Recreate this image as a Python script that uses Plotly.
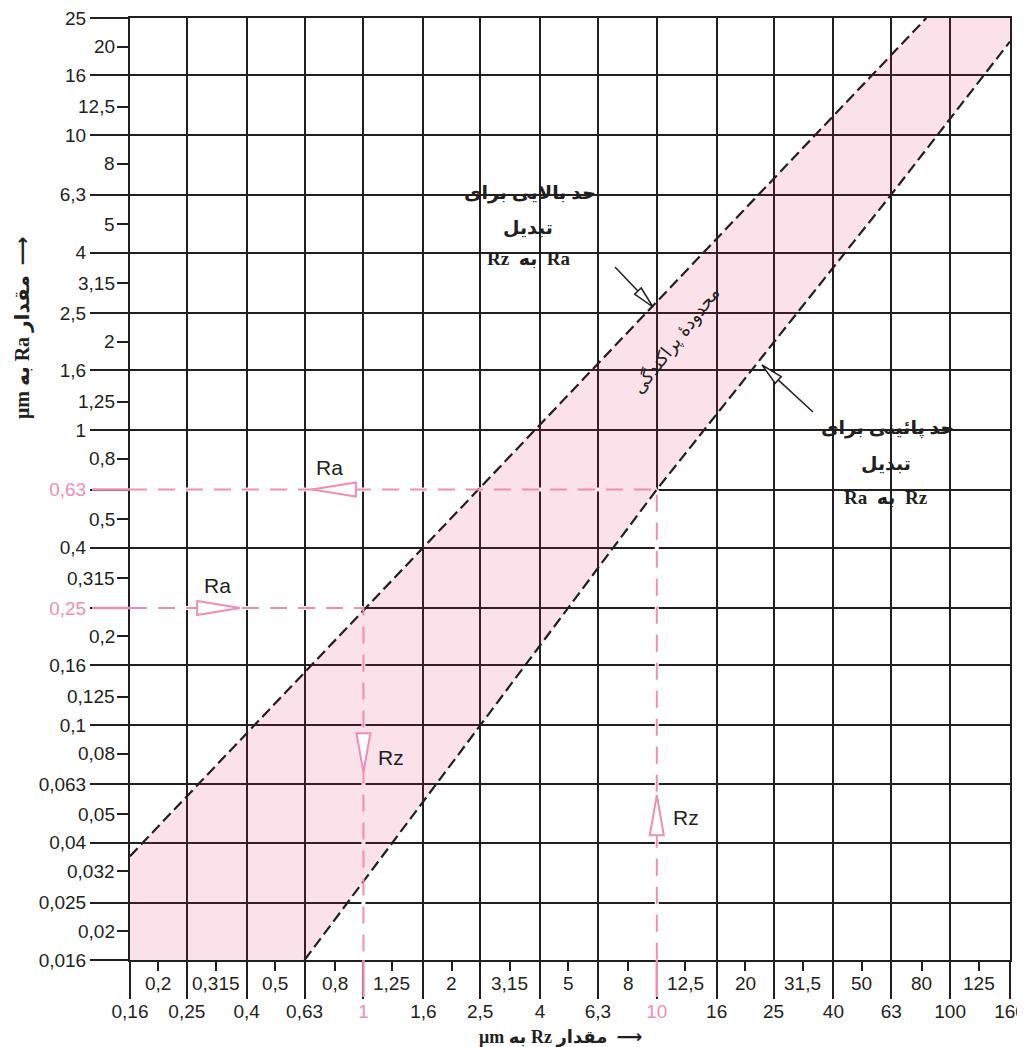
import math
import plotly.graph_objects as go

# Renard steps on both scales (µm)
rz_major = [0.16, 0.25, 0.4, 0.63, 1, 1.6, 2.5, 4, 6.3, 10, 16, 25, 40, 63, 100, 160]
rz_minor = [0.2, 0.315, 0.5, 0.8, 1.25, 2, 3.15, 5, 8, 12.5, 20, 31.5, 50, 80, 125]
ra_major = [0.016, 0.025, 0.04, 0.063, 0.1, 0.16, 0.25, 0.4, 0.63, 1, 1.6, 2.5, 4, 6.3, 10, 16, 25]
ra_minor = [0.02, 0.032, 0.05, 0.08, 0.125, 0.2, 0.315, 0.5, 0.8, 1.25, 2, 3.15, 5, 8, 12.5, 20]

# limits of the scatter band
upper_rz = [0.16, 83]
upper_ra = [0.036, 25]
lower_rz = [0.63, 2.5, 10, 63, 160]
lower_ra = [0.016, 0.1, 0.63, 6.3, 20.8]

# the two worked examples (Ra 0,25 -> Rz 1 and Rz 10 -> Ra 0,63)
example_ra = [0.25, 0.63]
example_rz = [1, 10]

DARK = "#231f20"
PINK = "#f08db4"
TICKFONT = "Liberation Sans, Roboto, sans-serif"
FAFONT = "Liberation Serif, DejaVu Sans"


def fmt(v):
    return str(v).replace(".", ",")


# plot area spans 130..1010 x 18..960 px on the page
def px(x):
    return (x - 130) / 880


def py(y):
    return (960 - y) / 942


def ticktext(vals, marked):
    out = []
    for v in vals:
        t = fmt(v)
        if v in marked:
            t = f"<span style='color:{PINK}'>{t}</span>"
        out.append(t)
    return out


fig = go.Figure()

# band fill (translucent so the grid shows through)
band_x = [rz_major[0]] + upper_rz + [rz_major[-1]] + lower_rz[::-1]
band_y = [ra_major[0]] + upper_ra + [ra_major[-1]] + lower_ra[::-1]
fig.add_trace(go.Scatter(x=band_x, y=band_y, fill="toself", fillcolor="rgba(217,24,94,0.13)",
                         mode="lines", line=dict(width=0, color="rgba(0,0,0,0)"), hoverinfo="skip"))

fig.add_trace(go.Scatter(x=upper_rz, y=upper_ra, mode="lines",
                         line=dict(color=DARK, width=2.2, dash="11px,5px"), hoverinfo="skip"))
fig.add_trace(go.Scatter(x=lower_rz, y=lower_ra, mode="lines",
                         line=dict(color=DARK, width=2.2, dash="11px,5px"), hoverinfo="skip"))

for ra, rz in zip(example_ra, example_rz):
    fig.add_trace(go.Scatter(x=[rz_major[0], rz, rz], y=[ra, ra, ra_major[0]], mode="lines",
                             line=dict(color=PINK, width=2, dash="17px,11px"), hoverinfo="skip"))

shapes = []
# hide the black grid under the pink example lines
for ra, rz in zip(example_ra, example_rz):
    shapes.append(dict(type="line", xref="x", yref="y", x0=rz, x1=rz, y0=ra_major[0], y1=ra,
                       line=dict(color="white", width=4), layer="between"))
    shapes.append(dict(type="line", xref="x", yref="y", x0=rz_major[0], x1=rz, y0=ra, y1=ra,
                       line=dict(color="white", width=4), layer="between"))
    # pink ticks
    shapes.append(dict(type="line", xref="x", yref="paper", x0=rz, x1=rz, y0=0, y1=-37 / 942,
                       line=dict(color=PINK, width=2.5), layer="above"))
    shapes.append(dict(type="line", xref="paper", yref="y", x0=-38 / 880, x1=0, y0=ra, y1=ra,
                       line=dict(color=PINK, width=2.5), layer="above"))

# white label boxes
for x0, x1, y0, y1 in [(447, 640, 293, 163), (800, 993, 528, 398)]:
    shapes.append(dict(type="rect", xref="paper", yref="paper", x0=px(x0), x1=px(x1), y0=py(y0), y1=py(y1),
                       fillcolor="white", line=dict(width=0), layer="between"))

# hollow pink arrowheads on the example lines
tri = [
    (0.271, example_ra[0], "M 0 -7 L 43 0 L 0 7 Z"),
    (0.667, example_ra[1], "M 0 0 L 44 -7 L 44 7 Z"),
    (example_rz[0], 0.094, "M -7 0 L 7 0 L 0 -39 Z"),
    (example_rz[1], 0.0424, "M -7 0 L 7 0 L 0 40 Z"),
]
for xa, ya, path in tri:
    shapes.append(dict(type="path", xref="x", yref="y", xsizemode="pixel", ysizemode="pixel",
                       xanchor=xa, yanchor=ya, path=path, fillcolor="white",
                       line=dict(color=PINK, width=2), layer="above"))

# leader arrows to the band limits
leaders = [
    (653, 307, "M 0 0 L -11.8 19 L -18.4 12.8 Z M -15.1 15.9 L -38 40"),
    (762, 365, "M 0 0 L 19.2 -11.6 L 13.2 -18.2 Z M 16.2 -14.9 L 51 -47"),
]
for tx, ty, path in leaders:
    shapes.append(dict(type="path", xref="paper", yref="paper", xsizemode="pixel", ysizemode="pixel",
                       xanchor=px(tx), yanchor=py(ty), path=path, fillcolor="white",
                       line=dict(color=DARK, width=1.5), layer="above"))

ann = []
# minor tick labels
for v in rz_minor:
    ann.append(dict(x=math.log10(v), y=0, xref="x", yref="paper", text=fmt(v), showarrow=False,
                    xanchor="center", yanchor="middle", yshift=-23,
                    font=dict(family=TICKFONT, size=19, color=DARK)))
for v in ra_minor:
    ann.append(dict(x=0, y=math.log10(v), xref="paper", yref="y", text=fmt(v), showarrow=False,
                    xanchor="right", yanchor="middle", xshift=-13,
                    font=dict(family=TICKFONT, size=19, color=DARK)))

# Ra / Rz labels next to the arrowheads
for (xa, ya, _), txt, xs, ys, anc in zip(tri, ["Ra", "Ra", "Rz", "Rz"],
                                          [20, 18, 13, 14], [22, 22, -24, 18],
                                          ["center", "center", "left", "left"]):
    ann.append(dict(x=math.log10(xa), y=math.log10(ya), xref="x", yref="y", text=txt, showarrow=False,
                    xanchor=anc, yanchor="middle", xshift=xs, yshift=ys,
                    font=dict(family=TICKFONT, size=21, color=DARK)))

# box texts
box_lines = [
    ("حد بالایی برای", 530, 193), ("تبدیل", 528, 228), ("Rz\u00a0 به\u00a0 Ra", 529, 258),
    ("حد پائینی برای", 887, 428), ("تبدیل", 886, 463), ("Ra\u00a0 به\u00a0 Rz", 886, 497),
]
for txt, x, y in box_lines:
    ann.append(dict(x=px(x), y=py(y), xref="paper", yref="paper", text=f"<b>{txt}</b>", showarrow=False,
                    xanchor="center", yanchor="middle",
                    font=dict(family=FAFONT, size=19, color=DARK)))

ann.append(dict(x=px(676), y=py(340), xref="paper", yref="paper", text="محدودهٔ پراکندگی",
                showarrow=False, textangle=-52, xanchor="center", yanchor="middle",
                font=dict(family="DejaVu Sans", size=18, color=DARK)))

# axis titles
ann.append(dict(x=px(560), y=py(1037), xref="paper", yref="paper",
                text="<b>μm به Rz مقدار\u00a0 ⟶</b>",
                showarrow=False, xanchor="center", yanchor="middle",
                font=dict(family=FAFONT, size=18, color=DARK)))
ann.append(dict(x=px(22), y=py(328), xref="paper", yref="paper",
                text="<b>μm به Ra مقدار\u00a0 ⟶</b>",
                showarrow=False, textangle=-90, xanchor="center", yanchor="middle",
                font=dict(family=FAFONT, size=20, color=DARK)))

axis_common = dict(type="log", tickmode="array", ticks="outside", tickwidth=2, tickcolor=DARK,
                   showgrid=True, gridcolor=DARK, gridwidth=2, showline=True, linecolor=DARK,
                   linewidth=2, mirror=True, zeroline=False, automargin=False,
                   ticklabeloverflow="allow",
                   tickfont=dict(family=TICKFONT, size=19, color=DARK))

# the page adds an 8 px body margin, so the figure margins are 8 px smaller
fig.update_layout(
    width=1025, height=1047,
    margin=dict(l=122, r=23, t=10, b=95),
    plot_bgcolor="white", paper_bgcolor="white",
    showlegend=False,
    xaxis=dict(axis_common, range=[math.log10(rz_major[0]), math.log10(rz_major[-1])],
               tickvals=rz_major, ticktext=ticktext(rz_major, example_rz), ticklen=37,
               ticklabelstandoff=-4,
               minor=dict(tickmode="array", tickvals=rz_minor, ticks="outside", ticklen=9,
                          tickwidth=2, tickcolor=DARK, showgrid=False)),
    yaxis=dict(axis_common, range=[math.log10(ra_major[0]), math.log10(ra_major[-1])],
               tickvals=ra_major, ticktext=ticktext(ra_major, example_ra), ticklen=38,
               minor=dict(tickmode="array", tickvals=ra_minor, ticks="outside", ticklen=11,
                          tickwidth=2, tickcolor=DARK, showgrid=False)),
    shapes=shapes,
    annotations=ann,
)

fig.write_html("out.html")
